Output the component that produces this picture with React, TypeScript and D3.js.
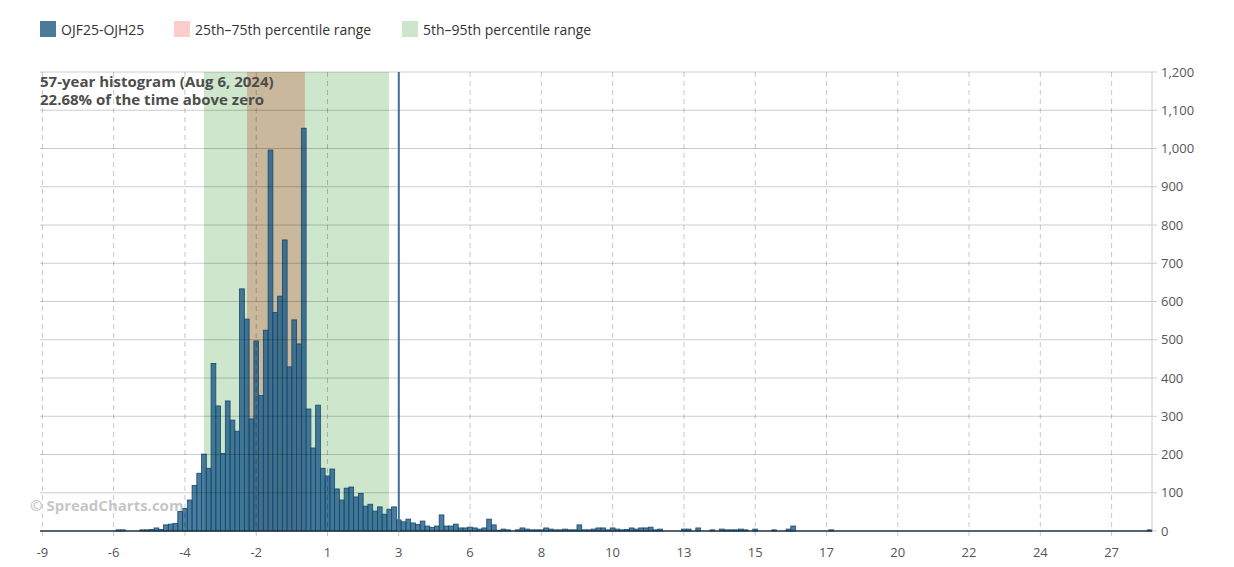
import React from "react";
import * as d3 from "d3";

const BIN_START = -9;
const BIN_WIDTH = 0.16;
const counts: number[] = [
  0, 0, 0, 0, 0, 0, 0, 0, 0, 0, 0, 0, 0, 0, 0, 0,
  3, 3, 0, 0, 0, 3, 3, 4, 8, 4,
  16, 18, 20, 51, 59, 81, 119, 151, 201, 164,
  438, 327, 203, 340, 290, 261, 633, 554, 293, 497,
  354, 525, 996, 571, 614, 761, 429, 552, 489, 1053,
  319, 217, 329, 164, 144, 162, 110, 81, 112, 115,
  89, 98, 65, 70, 52, 63, 44, 57, 63, 29,
  24, 31, 21, 17, 26, 13, 9, 13, 42, 13,
  13, 18, 8, 8, 10, 8, 5, 8, 31, 16,
  2, 5, 3, 0, 3, 8, 5, 3, 3, 3,
  8, 5, 3, 3, 5, 3, 3, 16, 3, 3,
  5, 8, 8, 3, 8, 5, 3, 4, 8, 5,
  8, 8, 10, 3, 5, 0, 0, 0, 0, 5,
  5, 0, 8, 0, 0, 3, 0, 5, 3, 3,
  3, 5, 3, 0, 5, 0, 0, 0, 3, 0,
  0, 5, 13, 0, 0, 0, 0, 0, 0, 0,
  3, 0, 0, 0, 0, 0, 0, 0, 0, 0,
  0, 0, 0, 0, 0, 0, 0, 0, 0, 0,
  0, 0, 0, 0, 0, 0, 0, 0, 0, 0,
  0, 0, 0, 0, 0, 0, 0, 0, 0, 0,
  0, 0, 0, 0, 0, 0, 0, 0, 0, 0,
  0, 0, 0, 0, 0, 0, 0, 0, 0, 0,
  0, 0, 0, 0, 0, 0, 0, 3,
];

const xTickValues = [-9, -6.6, -4.2, -1.8, 0.6, 3, 5.4, 7.8, 10.2, 12.6, 15, 17.4, 19.8, 22.2, 24.6, 27];
const xTickLabels = ["-9", "-6", "-4", "-2", "1", "3", "6", "8", "10", "13", "15", "17", "20", "22", "24", "27"];
const yTicks = [0, 100, 200, 300, 400, 500, 600, 700, 800, 900, 1000, 1100, 1200];
const band90 = [-3.56, 2.67];
const band50 = [-2.11, -0.16];
const currentValue = 3;
const seriesName = "OJF25-OJH25";
const legendItems = [
  { label: seriesName, color: "#4a7b9d" },
  { label: "25th–75th percentile range", color: "#ffcccc" },
  { label: "5th–95th percentile range", color: "#cce6cc" },
];
const titleLines = ["57-year histogram (Aug 6, 2024)", "22.68% of the time above zero"];

const W = 1234;
const H = 567;
const L = 40;
const R = 1152;
const T = 72;
const B = 531;
const FONT = "'Open Sans', 'Noto Sans', sans-serif";

export default function App() {
  const n = counts.length;
  const x = d3
    .scaleLinear()
    .domain([BIN_START - BIN_WIDTH / 2, BIN_START + (n - 1) * BIN_WIDTH + BIN_WIDTH / 2])
    .range([L, R]);
  const y = d3.scaleLinear().domain([0, 1200]).range([B, T]);
  const bw = x(BIN_WIDTH) - x(0);
  const legendX = [40, 174, 402];

  return (
    <svg width={W} height={H} style={{ position: "absolute", left: 0, top: 0, fontFamily: FONT }}>
      <rect x={0} y={0} width={W} height={H} fill="#fff" />
      {/* legend */}
      {legendItems.map((d, i) => (
        <g key={d.label}>
          <rect x={legendX[i]} y={21} width={16} height={16} fill={d.color} />
          <text x={legendX[i] + 21} y={34.5} fontSize={14} fill="#333">
            {d.label}
          </text>
        </g>
      ))}
      {/* bands */}
      <rect x={x(band90[0])} y={T} width={x(band90[1]) - x(band90[0])} height={B - T} fill="#cde6cc" />
      <rect x={x(band50[0])} y={T} width={x(band50[1]) - x(band50[0])} height={B - T} fill="#c9b89c" />
      {/* bars */}
      {counts.map((c, i) =>
        c > 0 ? (
          <rect
            key={i}
            x={x(BIN_START + i * BIN_WIDTH) - bw / 2}
            y={y(c)}
            width={bw}
            height={B - y(c)}
            fill="#1f5b86"
            fillOpacity={0.8}
            stroke="#124a70"
            strokeWidth={0.8}
          />
        ) : null
      )}
      {/* horizontal grid */}
      {yTicks.map((t) => (
        <line key={t} x1={L} x2={R + 5} y1={y(t)} y2={y(t)} stroke="rgba(0,0,0,0.2)" strokeWidth={1} />
      ))}
      {/* vertical dashed grid */}
      {xTickValues.map((v) => (
        <line
          key={v}
          x1={x(v)}
          x2={x(v)}
          y1={T}
          y2={B + 6}
          stroke="rgba(0,0,0,0.22)"
          strokeWidth={1}
          strokeDasharray="5,4"
        />
      ))}
      {/* right axis line */}
      <line x1={R} x2={R} y1={T} y2={B} stroke="#ccc" strokeWidth={1} />
      {/* x axis */}
      <line x1={L} x2={R} y1={B} y2={B} stroke="#23394a" strokeWidth={1.5} />
      {/* current value line */}
      <line x1={x(currentValue)} x2={x(currentValue)} y1={T} y2={B} stroke="#3f709a" strokeWidth={2} />
      {/* y labels */}
      {yTicks.map((t) => (
        <text key={t} x={R + 9} y={y(t) + 4.5} fontSize={13} fill="#555">
          {d3.format(",")(t)}
        </text>
      ))}
      {/* x labels */}
      {xTickValues.map((v, i) => (
        <text key={v} x={x(v)} y={557} fontSize={13} fill="#555" textAnchor="middle">
          {xTickLabels[i]}
        </text>
      ))}
      {/* title */}
      {titleLines.map((s, i) => (
        <text key={s} x={40} y={87 + i * 18} fontSize={15} fontWeight="bold" fill="#4d4d4d">
          {s}
        </text>
      ))}
      {/* watermark */}
      <text x={30} y={511} fontSize={15} fontWeight="bold" fill="#bbb" fillOpacity={0.85}>
        © SpreadCharts.com
      </text>
    </svg>
  );
}
